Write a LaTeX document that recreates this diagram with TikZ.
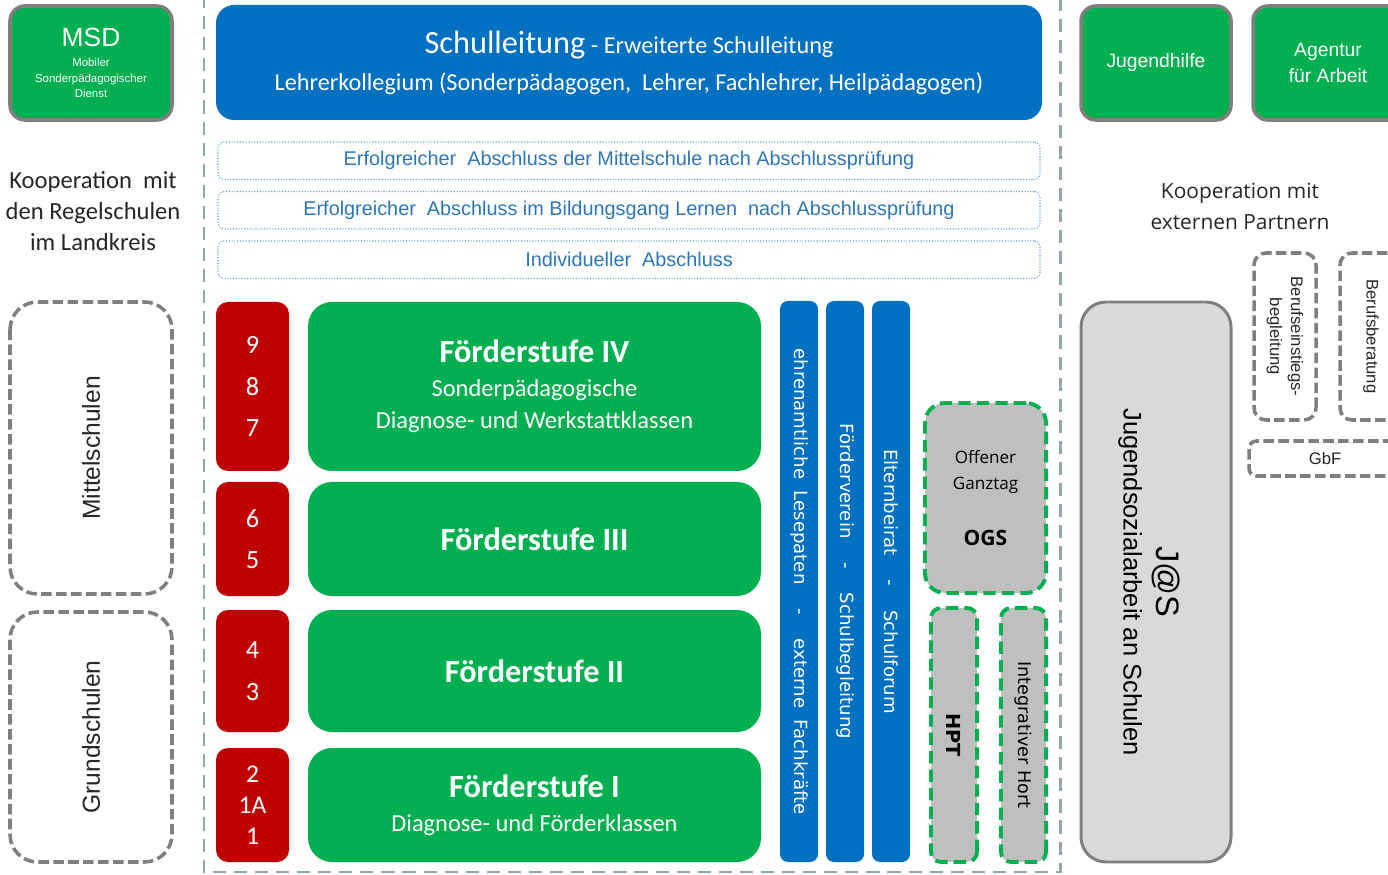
\documentclass[tikz,border=0pt]{standalone}
\usepackage{fontspec}
\setmainfont{Carlito}
\newfontfamily\arialfont{Liberation Sans}
\newfontfamily\dejavufont{DejaVu Sans}
\newfontfamily\opensansfont{Open Sans}
\usepackage{tikz}
\usetikzlibrary{calc, positioning}
\definecolor{fgreen}{HTML}{00B050}
\definecolor{sblue}{HTML}{0070C0}
\definecolor{kred}{HTML}{C00000}
\definecolor{boxgray}{HTML}{7F7F7F}
\definecolor{framegray}{HTML}{8FA8AB}
\definecolor{dotblue}{HTML}{5B9BD5}
\definecolor{abblue}{HTML}{2E75B6}
\definecolor{lightfill}{HTML}{D9D9D9}
\definecolor{ogsfill}{HTML}{BFBFBF}
\definecolor{kooptext}{HTML}{262626}
\tikzstyle{partner} = [rectangle, rounded corners=0.3cm, fill=fgreen, draw=boxgray, line width=2pt, text=white, align=center, minimum width=3cm, minimum height=2.28cm, outer sep=0pt, font=\arialfont\fontsize{11}{14.7}\selectfont]
\tikzstyle{leitung} = [rectangle, rounded corners=0.36cm, fill=sblue, text=white, align=center, minimum width=16.52cm, minimum height=2.3cm, outer sep=0pt, font=\fontsize{13.8}{21}\selectfont]
\tikzstyle{abschluss} = [rectangle, rounded corners=0.12cm, draw=dotblue, densely dotted, line width=0.6pt, text=abblue, minimum width=16.44cm, minimum height=0.75cm, outer sep=0pt, font=\arialfont\fontsize{11.3}{13}\selectfont]
\tikzstyle{schulart} = [rectangle, rounded corners=0.55cm, draw=boxgray, line width=2pt, dash pattern=on 6pt off 2.5pt, rotate=90, minimum height=3.24cm, text=kooptext, font=\arialfont\fontsize{14}{16}\selectfont]
\tikzstyle{klasse} = [rectangle, rounded corners=0.24cm, fill=kred, text=white, align=center, minimum width=1.46cm, outer sep=0pt, font=\fontsize{15}{23.5}\selectfont]
\tikzstyle{stufe} = [rectangle, rounded corners=0.48cm, fill=fgreen, text=white, align=center, minimum width=9.06cm, outer sep=0pt, font=\fontsize{13.9}{18.3}\selectfont]
\tikzstyle{saeule} = [rectangle, rounded corners=0.16cm, fill=sblue, text=white, rotate=-90, minimum width=11.22cm, minimum height=0.76cm, font=\dejavufont\fontsize{10.3}{12}\selectfont]
\tikzstyle{betreuung} = [rectangle, rounded corners=0.2cm, fill=ogsfill, draw=fgreen, line width=2.2pt, dash pattern=on 7pt off 3.5pt, align=center, text=black]
\tikzstyle{extern} = [rectangle, rounded corners=0.24cm, draw=boxgray, line width=2pt, dash pattern=on 6pt off 2.5pt, align=center, text=kooptext, font=\arialfont\fontsize{9.5}{12}\selectfont]
\tikzstyle{randlinie} = [framegray, line width=1.7pt, dash pattern=on 7.5pt off 4.5pt]

\begin{document}
\begin{tikzpicture}
		\useasboundingbox (0,0) rectangle (27.76,-17.5);
		% Rahmen um die Schule
		\coordinate (RahmenOL) at (4.08,0.1);
		\coordinate (RahmenUR) at (21.2,-17.44);
		\coordinate (RahmenOR) at (21.2,0.1);
		\draw [randlinie] (RahmenOL) |- (RahmenUR) -- (RahmenOR);
		% Kopfzeile
		\node (MSD) [partner, minimum width=3.24cm, font=\arialfont\fontsize{6.5}{8.8}\selectfont] at (1.82,-1.26) {{\fontsize{15}{17}\selectfont MSD}\\[2.8pt]Mobiler\\Sonderpädagogischer\\Dienst};
		\node (Leitung) [leitung] at (12.58,-1.25) {{\fontsize{18.4}{21}\selectfont Schulleitung} - Erweiterte Schulleitung\\Lehrerkollegium (Sonderpädagogen,\ \ Lehrer, Fachlehrer, Heilpädagogen)};
		\node (Jugendhilfe) [partner] at (23.12,-1.26) {Jugendhilfe};
		\node (Agentur) [partner, right=0.44cm of Jugendhilfe] {Agentur\\für Arbeit};
		% Abschluesse
		\node (AbMS) [abschluss, below=0.44cm of Leitung] {Erfolgreicher\ \ Abschluss der Mittelschule nach Abschlussprüfung};
		\node (AbLernen) [abschluss, below=0.24cm of AbMS] {Erfolgreicher\ \ Abschluss im Bildungsgang Lernen\ \ nach Abschlussprüfung};
		\node (AbIndiv) [abschluss, below=0.24cm of AbLernen] {Individueller\ \ Abschluss};
		% Kooperation
		\node (KoopRegel) [align=center, text=kooptext, font=\fontsize{14}{17.6}\selectfont] at (1.86,-4.22) {Kooperation\ \ mit\\den Regelschulen\\im Landkreis};
		\node (Mittel) [schulart, minimum width=5.84cm] at (1.82,-8.96) {Mittelschulen};
		\node (Grund) [schulart, minimum width=5cm] at (1.82,-14.74) {Grundschulen};
		% Jahrgangsstufen
		\node (K987) [klasse, minimum height=3.38cm] at (5.05,-7.73) {9\\8\\7};
		\node (K65) [klasse, minimum height=2.28cm, below=0.22cm of K987] {6\\5};
		\node (K43) [klasse, minimum height=2.44cm, below=0.28cm of K65] {4\\3};
		\node (K21) [klasse, minimum height=2.28cm, below=0.32cm of K43, font=\fontsize{14.5}{17.6}\selectfont] {2\\1A\\1};
		\node (Stufe4) [stufe, minimum height=3.38cm, right=0.38cm of K987] {{\bfseries\fontsize{18.4}{20}\selectfont Förderstufe IV}\\[0.8pt]Sonderpädagogische\\Diagnose- und Werkstattklassen};
		\node (Stufe3) [stufe, minimum height=2.28cm, right=0.38cm of K65] {\bfseries\fontsize{18.4}{20}\selectfont Förderstufe III};
		\node (Stufe2) [stufe, minimum height=2.44cm, right=0.38cm of K43] {\bfseries\fontsize{18.4}{20}\selectfont Förderstufe II};
		\node (Stufe1) [stufe, minimum height=2.28cm, right=0.38cm of K21] {{\bfseries\fontsize{18.4}{20}\selectfont Förderstufe I}\\[1pt]Diagnose- und Förderklassen};
		% Saeulen
		\node (Lesepaten) [saeule] at (15.98,-11.63) {ehrenamtliche\ \ Lesepaten\ \quad-\quad\ externe\ \ Fachkräfte};
		\node (Foerderverein) [saeule] at (16.9,-11.63) {Förderverein\ \quad-\quad\ Schulbegleitung};
		\node (Elternbeirat) [saeule] at (17.82,-11.63) {Elternbeirat\ \quad-\quad\ Schulforum};
		% Betreuung
		\node (OGS) [betreuung, minimum width=2.42cm, minimum height=3.8cm, rounded corners=0.4cm, font=\opensansfont\fontsize{9.7}{14.7}\selectfont] at (19.71,-9.96) {Offener\\Ganztag\\[17pt]{\bfseries\fontsize{12}{14}\selectfont OGS}};
		\node (HPT) [betreuung, rotate=-90, minimum width=5.08cm, minimum height=0.92cm, font=\dejavufont\bfseries\fontsize{11}{13}\selectfont] at (19.08,-14.7) {HPT};
		\node (Hort) [betreuung, rotate=-90, minimum width=5.08cm, minimum height=0.9cm, font=\dejavufont\fontsize{10}{12}\selectfont] at (20.47,-14.7) {Integrativer Hort};
		% externe Partner
		\node (KoopExtern) [align=center, text=kooptext, font=\opensansfont\fontsize{11.9}{17.6}\selectfont] at (24.8,-4.12) {Kooperation mit\\externen Partnern};
		\node (JaS) [rectangle, rounded corners=0.5cm, fill=lightfill, draw=boxgray, line width=1.7pt, rotate=-90, minimum width=11.2cm, minimum height=3cm, align=center, font=\arialfont\fontsize{14.5}{18.8}\selectfont] at (23.12,-11.64) {{\fontsize{18.5}{20}\selectfont\rule{0pt}{21pt}J@S}\\Jugendsozialarbeit an Schulen};
		\node (BerEinstieg) [extern, rotate=-90, minimum width=3.34cm, minimum height=1.24cm] at (25.7,-6.73) {Berufseinstiegs-\\begleitung};
		\node (BerBeratung) [extern, rotate=-90, minimum width=3.34cm, minimum height=1.24cm] at (27.42,-6.73) {Berufsberatung};
		\node (GbF) [extern, minimum width=3.04cm, minimum height=0.7cm, rounded corners=0.15cm] at (26.5,-9.17) {GbF};
	\end{tikzpicture}
\end{document}
